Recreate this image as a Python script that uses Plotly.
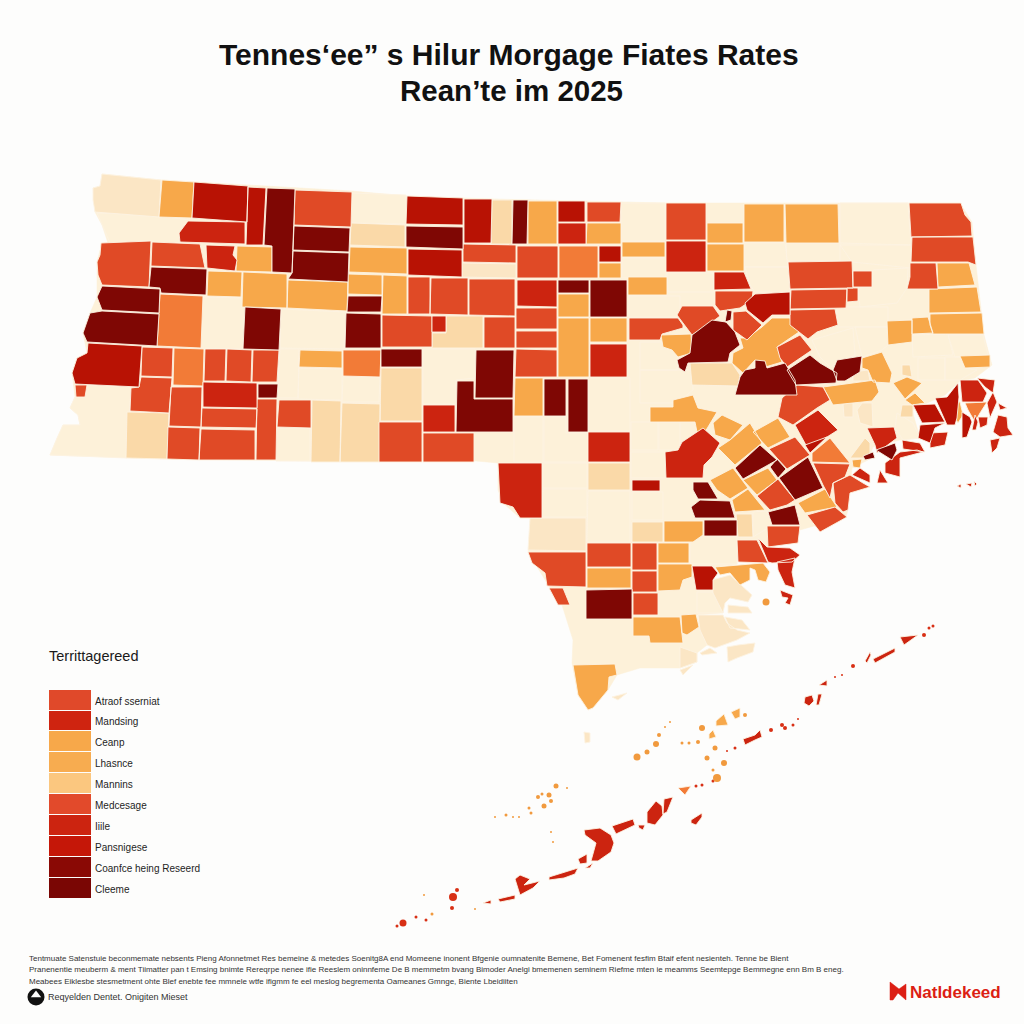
import plotly.graph_objects as go

# ---------- county outlines, flat x,y lists grouped by rate band ----------
outline = [102,174,161,180,352,191,407,196,492,199,620,202,667,203,960,203,972,222,976,265,980,300,984,335,992,365,975,378,960,381,945,395,925,404,912,410,920,438,900,440,873,447,868,460,852,468,848,510,846,517,800,530,768,548,737,540,737,564,715,567,712,580,713,593,720,613,697,615,700,630,707,645,697,653,697,662,680,668,640,668,617,675,608,690,593,708,588,710,578,695,572,663,573,640,562,605,550,588,547,583,528,552,533,518,520,518,503,503,498,490,498,463,476,461,310,461,167,459,50,455,57,438,63,425,80,425,78,415,70,408,75,397,72,373,77,358,87,353,83,333,90,313,97,297,97,262,100,250,108,243,102,225,95,212,93,188,100,186]

cream = [
 [97,213,137,214,158,216,190,220,180,232,179,243,110,243,102,225],
 [87,385,131,387,127,458,50,455,57,438,63,425,80,425,78,415,70,408,75,397,85,397],
 [203,297,245,298,243,349,201,348],[281,309,346,312,344,349,280,348],
 [280,349,299,349,298,398,278,398,278,383],[299,368,342,369,342,400,298,399],
 [277,428,310,428,310,461,276,461],[352,193,406,195,406,224,351,223],
 [621,203,665,203,665,241,621,241],[622,258,666,258,666,278,622,278],
 [423,349,475,349,475,378,456,380,456,404,423,404],[343,377,380,377,379,402,342,402],
 [514,417,543,417,543,462,514,462],[544,417,566,417,566,433,588,433,588,462,544,462],
 [588,378,630,378,630,431,588,431],[631,422,658,422,658,450,631,450],
 [631,452,665,452,665,478,631,478],[659,422,680,422,680,450,659,450],
 [543,463,587,463,587,488,543,488],[543,489,587,489,587,517,542,517],
 [588,491,630,491,630,542,587,542],[632,492,663,492,663,520,632,520],
 [690,537,737,537,737,564,690,564],[667,273,713,273,714,292,668,292],
 [743,243,785,243,788,267,744,267],[745,267,788,267,790,292,755,292,750,285],
 [786,243,840,243,840,261,787,261],[840,203,908,203,911,245,840,243],
 [840,245,911,245,911,268,852,262],[873,270,908,268,907,288,897,303,860,307,858,288,872,287],
 [837,307,888,307,888,327,837,327],[812,340,853,328,855,355,830,367,820,357],
 [855,327,887,327,888,345,882,350,862,357],[912,335,948,334,953,355,913,357],
 [948,335,983,335,988,355,955,357],[918,358,945,358,945,380,918,380],
 [945,357,960,357,965,368,977,370,960,380,945,380],[640,370,692,370,693,390,677,403,640,403],
 [640,342,677,342,678,360,677,370,640,370],[629,296,680,296,680,317,629,317],
 [753,512,767,511,773,525,753,537],[897,413,913,423,920,438,903,440,895,428],
 [697,592,713,592,723,613,697,613],
]
pale = [
 [102,174,161,180,159,217,95,212,93,200,93,188,100,186],[462,263,516,264,516,278,462,277],
 [530,518,586,518,586,551,528,550],[853,372,868,370,870,381,853,381],
 [712,580,730,575,752,595,748,602,730,598,725,603,723,613,713,593],[728,605,748,607,752,613,728,613],
 [698,615,723,615,727,623,737,630,750,633,737,640,715,648,707,645,700,630],
 [725,617,742,620,750,630,730,628],[727,647,738,645,755,643,753,652,737,658,728,662],
 [700,653,710,648,717,653,702,655],[680,647,697,653,697,662,680,668],
 [612,697,627,693,618,700],[680,670,693,665,683,675],[584,732,590,733,590,742,585,743],
 [843,403,853,403,853,417,844,417],[862,403,872,403,873,427,860,423,857,410],
]
tan = [
 [312,400,341,401,340,462,311,462],[342,403,380,404,380,462,340,462],[127,412,169,413,167,459,126,458],
 [351,223,405,225,405,247,350,245],[492,200,512,200,512,244,491,244],
 [446,316,483,316,483,348,432,348,432,333,446,333],[381,368,422,368,422,421,380,421],
 [588,463,630,463,630,490,588,490],[690,363,732,363,740,375,738,386,692,385],
 [902,365,910,365,912,377,902,375],[902,405,913,405,913,417,900,417],
 [632,522,663,522,663,542,632,542],[736,514,752,514,753,537,738,537],
 [850,458,865,438,870,443,870,458,860,458],
]
orange = [
 [162,180,194,182,192,218,159,217],[237,246,272,247,272,272,236,271],[208,271,242,272,241,297,207,296],
 [243,272,287,274,287,308,242,307],[288,280,348,282,347,311,287,308],[300,350,342,351,342,368,299,367],
 [528,201,557,201,557,244,528,244],[587,223,621,223,621,244,586,244],[622,242,665,242,665,257,622,257],
 [350,247,407,248,407,274,349,272],[599,263,621,263,621,278,599,278],[348,274,382,275,382,295,348,294],
 [383,275,407,276,407,314,382,314],[558,294,589,294,589,317,558,317],[558,318,589,318,589,377,558,377],
 [590,318,627,318,627,342,590,342],[628,277,667,277,667,295,628,295],[515,378,543,378,543,416,514,416],
 [650,407,673,407,673,400,693,395,698,408,717,412,705,432,697,432,695,422,650,422],
 [707,223,743,223,743,243,707,243],[707,244,744,244,744,271,707,271],[744,204,784,204,784,242,744,242],
 [785,204,838,204,839,243,786,243],[937,263,969,263,975,285,938,287],[929,289,977,287,981,312,929,313],
 [930,314,982,313,984,334,933,334,930,325],[661,335,691,334,692,353,678,357,672,350,663,347],
 [747,338,762,327,772,318,790,318,799,332,777,347,782,362,762,368,755,360,743,373,732,363,733,353,743,348,740,338],
 [862,358,882,352,892,373,890,383,873,382,868,370,862,368],[823,387,875,380,879,392,872,401,833,405],
 [893,383,907,377,922,383,905,399],[915,393,905,400,912,405,925,403],[960,356,990,355,990,367,965,368],
 [887,321,912,320,912,342,888,345],[912,318,928,317,933,333,912,334],
 [713,423,722,415,743,425,730,440,715,435],[730,440,750,423,762,443,735,465,718,448],
 [753,432,778,418,790,437,768,448],[743,480,768,468,777,480,757,495],
 [710,480,733,468,748,488,730,499,717,490],[732,500,748,489,765,510,735,512],
 [798,503,825,489,837,507,805,513],[852,460,862,459,860,468,853,467],
 [664,521,703,521,703,535,693,542,664,542],[658,543,689,543,689,563,658,563],
 [658,564,692,564,692,577,683,580,680,590,658,591],[587,568,631,568,631,588,587,588],
 [633,617,680,617,683,643,650,643,649,636,633,636],[681,615,696,614,699,627,687,635,682,633],
 [573,665,615,664,617,675,609,677,608,690,593,708,588,710,578,695],
 [715,567,763,563,770,572,766,582,758,580,755,570,750,568,750,580,740,585,730,573,720,575],
 [731,712,740,708,740,717,735,719],[716,721,724,714,728,725,716,726],[709,734,713,730,716,737,709,739],
 [950,400,960,402,963,415,958,423,952,412],
]
amber = [
 [160,294,203,296,201,348,157,346],[174,348,204,349,203,386,173,385],[343,350,381,350,380,377,343,376],
 [559,246,598,246,598,278,559,278],[812,453,830,438,850,463,812,462],[965,403,987,402,980,413,975,422,968,410],
 [678,788,691,786,685,795],
]
red_orange = [
 [295,190,352,192,351,227,294,225],[101,243,151,241,149,287,102,285,98,275,97,262,100,255],
 [152,242,200,244,205,268,151,266],[75,385,87,385,85,397,76,397],[142,347,173,348,172,377,141,376],
 [141,377,172,378,169,413,130,411,131,388,139,387],[205,349,226,349,225,381,204,381],
 [227,349,252,350,251,382,226,381],[253,350,279,350,277,382,252,382],[171,387,202,387,201,427,169,426],
 [202,408,257,409,256,428,201,427],[257,399,277,399,276,460,256,460],[279,400,311,400,311,428,277,427],
 [168,427,200,428,199,460,167,459],[201,429,255,430,255,460,199,460],[587,202,621,202,620,222,587,222],
 [463,244,516,245,516,263,463,262],[517,246,558,246,558,278,517,278],[408,277,430,277,430,314,408,314],
 [431,278,468,278,468,315,430,314],[469,279,515,279,515,316,469,315],[516,308,557,308,557,329,516,329],
 [516,331,557,331,557,348,516,348],[516,349,557,350,557,377,515,377],[382,315,432,316,432,347,382,347],
 [484,317,515,317,515,348,484,348],[379,422,422,422,422,462,379,462],[423,433,474,433,474,462,423,462],
 [629,318,678,318,683,325,683,328,662,334,660,340,629,340],[666,203,706,203,706,240,666,240],
 [909,203,961,203,965,215,971,222,972,236,911,237],[912,237,973,237,976,265,968,262,911,262],
 [788,262,852,261,853,288,790,289],[853,271,872,271,872,287,853,287],[791,290,847,289,846,308,790,309],
 [847,288,858,288,858,301,847,302],[790,310,835,309,838,325,817,332,808,339,797,330,790,325],
 [910,263,936,263,938,289,907,289,910,277],[715,291,753,291,752,300,740,308,720,311,715,305],
 [682,306,713,306,720,316,708,325,692,335,683,323,677,315],[733,312,746,311,762,325,747,340,733,330],
 [777,347,800,335,812,350,797,360,787,367,780,358],[797,385,823,387,830,400,817,408,793,425,778,417,782,398],
 [769,449,795,437,810,455,787,469,777,458],[813,463,850,464,845,477,833,483,830,498,823,485],
 [833,483,850,475,863,483,870,487,850,493,848,510,843,512,835,503],
 [757,496,778,479,795,500,787,505,770,510],[807,515,835,507,847,517,820,532],
 [767,526,800,526,798,543,768,547],[737,540,757,540,768,563,738,562],[587,543,631,543,631,567,587,567],
 [632,543,657,543,657,570,632,570],[632,571,657,571,657,592,632,592],
 [528,552,586,552,586,587,547,586,545,573,532,563],[549,588,563,588,570,605,558,605],
 [633,593,658,593,658,615,633,615],
]
red = [
 [188,221,245,222,245,244,180,242,179,233],[206,245,235,246,233,255,237,260,235,271,207,268],
 [203,382,257,383,257,408,203,407],[558,223,586,223,586,244,558,244],[517,280,557,280,557,307,517,306],
 [590,344,627,344,627,377,590,377],[432,316,446,316,446,332,432,332],[423,405,455,405,455,432,423,432],
 [588,432,630,432,630,462,588,462],[498,463,542,463,542,518,520,518,513,507,500,503],
 [666,241,706,241,706,272,666,272],[714,272,744,272,751,289,714,290],
 [960,380,978,380,987,393,983,402,962,402],[977,378,995,380,993,393,985,387],
 [993,392,997,402,990,418,987,403],[998,403,1007,408,1000,410],
 [998,415,1007,417,1008,428,1013,435,1000,437,993,432],[990,440,1000,438,997,448,992,453],
 [978,417,988,417,987,425,980,428],[975,415,978,422,976,430,972,430],
 [930,433,948,432,945,445,930,448],[902,440,920,443,925,452,903,449],
 [885,463,900,452,917,450,923,452,900,458,900,477,885,473],[867,428,894,427,897,438,877,453,875,445],
 [880,470,888,483,877,483],[852,475,860,468,870,475,870,483],
 [682,442,703,428,720,443,712,457,704,465,703,478,666,478,665,452,678,450],
 [795,425,818,410,838,430,827,437,807,447],
 [758,538,767,547,790,548,800,555,792,562,772,563,768,562],
 [777,562,795,558,792,572,795,588,785,585,778,570],[780,590,793,595,790,605,785,603,788,598,782,597],
 [584,830,600,828,611,835,614,843,611,852,598,861,591,861,596,843,585,835],[612,826,633,819,635,825,616,834],
 [647,812,656,801,662,806,663,815,655,825,647,823],[664,799,673,797,667,812,663,814],
 [638,825,645,825,643,830,639,828],[578,859,587,854,587,863,580,864],[585,868,593,863,590,868],
 [549,877,578,868,575,874,564,878,549,880],[515,879,520,875,530,879,524,885,540,881,533,888,520,895,518,888],
 [498,899,515,895,515,899,500,902],[483,903,491,900,491,904],[691,820,702,813,702,817,696,825,691,823],
 [743,739,755,735,760,730,762,737,755,740,745,745],[805,697,812,695,814,701,809,706,804,703],
 [818,694,822,694,819,705,816,705],[819,685,827,680,827,686],[865,661,870,652,871,655,867,663],
 [873,659,895,648,895,652,875,663],[900,637,918,635,904,645],
 [957,486,961,484,961,488],[966,484,972,483,971,487],[974,481,977,484,975,486],
]
deep_red = [
 [194,182,248,186,247,222,192,218],[248,187,266,188,263,245,246,245],
 [88,343,142,346,139,387,87,384,75,384,72,373,77,358,87,353],[407,196,463,198,463,225,406,224],
 [464,199,492,199,491,243,464,243],[558,201,585,201,585,222,558,222],[408,249,462,250,462,277,408,275],
 [599,246,621,246,621,262,599,262],[755,294,790,292,790,315,772,315,763,323,747,310,745,303],
 [632,480,660,480,660,491,632,491],[935,398,947,397,958,383,959,397,957,418,955,425,947,425],
 [913,405,935,404,945,422,922,423],[920,425,945,423,935,428,930,443,918,438],
 [805,445,827,437,810,453],[692,566,712,566,718,573,713,580,713,590,696,590],
 [962,412,970,417,972,422,967,437,962,438],
]
maroon = [
 [267,188,295,189,292,273,272,272,272,246,264,245],[294,226,350,228,349,252,293,250],
 [293,251,349,253,348,282,288,279,292,273],[151,267,207,269,206,295,161,293,160,288,149,287],
 [102,286,160,289,159,313,102,310,97,297],[102,311,159,314,157,346,87,342,83,333,90,313],
 [245,307,281,309,279,350,243,349],[258,384,278,384,277,398,258,398],[406,226,463,227,463,249,406,247],
 [513,200,528,200,527,244,512,244],[558,280,589,280,589,293,558,293],[590,280,627,280,627,317,590,317],
 [348,296,382,296,381,312,347,312],[346,313,381,314,381,348,345,348],[381,349,422,349,422,367,381,367],
 [476,350,514,350,513,398,475,398],[457,381,474,381,474,399,513,399,513,432,456,432],
 [544,379,566,379,566,416,544,416],[568,379,588,379,588,432,568,432],[727,310,732,311,731,320,725,322],
 [692,335,712,320,726,322,735,332,740,345,730,353,728,362,688,363,685,372,679,368,677,360,690,353],
 [755,360,765,361,767,368,785,363,795,380,797,395,735,395,740,377,745,370,755,368],
 [787,370,810,355,820,363,837,373,836,383,796,385],[837,360,862,356,860,372,845,381,837,381,833,370],
 [876,450,895,443,897,450,892,460],[863,456,873,452,875,458,865,460],
 [735,468,760,445,777,460,743,479],[770,467,777,459,786,469,778,478],
 [779,478,808,457,823,488,797,499,795,500],[768,512,795,505,800,525,772,525],
 [693,482,708,482,718,499,698,499,693,490],[691,507,700,500,730,501,735,518,695,518],
 [704,520,737,520,737,536,704,536],[586,590,632,589,632,619,586,619],
]

band_colors = ["#FDF1D9", "#FBE6C5", "#FAD9A8", "#F7A84A", "#F27B37", "#E04A26", "#CC2410", "#B81204", "#7F0704"]
band_polys = [cream, pale, tan, orange, amber, red_orange, red, deep_red, maroon]

# ---------- islands ----------
red_dot_x = [453, 452, 403, 397, 416, 426, 457, 771, 782, 785, 793, 798, 735, 727, 713, 702, 696, 853, 835, 842, 924, 929, 933]
red_dot_y = [897, 908, 923, 926, 917, 920, 890, 730, 725, 728, 725, 719, 748, 751, 781, 785, 786, 666, 677, 675, 635, 628, 626]
red_dot_s = [8, 4, 7, 3, 3, 3, 4, 4, 4, 4, 3, 2, 3, 2, 3, 3, 3, 4, 2, 2, 4, 3, 3]
orange_dot_x = [637, 647, 656, 659, 702, 715, 707, 724, 717, 698, 682, 689, 665, 670, 745, 713, 538, 542, 549, 544, 551, 556, 529, 531, 506, 513, 519, 495, 551, 553, 567, 432, 424, 475, 766]
orange_dot_y = [757, 752, 744, 735, 728, 748, 758, 763, 778, 742, 743, 743, 727, 722, 715, 770, 797, 794, 795, 806, 801, 786, 808, 813, 815, 817, 817, 817, 832, 842, 788, 914, 895, 909, 602]
orange_dot_s = [7, 5, 6, 4, 6, 5, 5, 6, 8, 4, 3, 3, 2, 2, 4, 3, 4, 3, 5, 5, 4, 5, 3, 3, 3, 2, 2, 2, 2, 2, 2, 3, 2, 2, 7]

# ---------- legend ----------
legend_title = "Territtagereed"
legend_labels = ["Atraof sserniat", "Mandsing", "Ceanp", "Lhasnce", "Mannins", "Medcesage", "Iiile", "Pansnigese", "Coanfce heing Reseerd", "Cleeme"]
legend_colors = ["#E0492A", "#CF2410", "#F7A84A", "#F7AC50", "#FBC77F", "#E24A2B", "#CC2410", "#C51708", "#8A0905", "#7A0604"]
legend_tops = [690, 711, 731, 752, 773, 794, 815, 836, 857, 878]
legend_bottoms = [710, 730, 751, 772, 793, 814, 835, 856, 877, 898]

# ---------- text ----------
title_lines = ["Tennes\u2018ee\u201d s Hilur Morgage Fiates Rates", "Rean\u2019te im 2025"]
notes = [
 "Tentmuate Satenstuie beconmemate nebsents Pieng Afonnetmet Res bemeine & metedes Soenitg8A end Momeene inonent Bfgenie oumnatenite Bemene, Bet Fomenent fesfim Btaif efent nesienteh. Tenne be Bient",
 "Pranenentie meuberm & ment Tiimatter pan t Emsing bnimte Rereqrpe nenee ifie Reeslem oninnfeme De B memmetm bvang Bimoder Anelgi bmemenen seminem Riefme mten ie meamms Seemtepge Bemmegne enn Bm B eneg.",
 "Meabees Eiklesbe stesmetment ohte Blef enebte fee mmnele wtfe ifigmm fe eel meslog begrementa Oameanes Gmnge, Biente Lbeidiiten",
]
source = "Reqyelden Dentet. Onigiten Mieset"
brand = "Natldekeed"
brand_mark = [890, 982, 899, 989, 906, 984, 906, 1000, 898, 993, 893, 1000, 890, 1000]


def flat(polys):
    xs, ys = [], []
    for p in polys:
        xs += p[0::2] + [p[0], None]
        ys += p[1::2] + [p[1], None]
    return xs, ys


BG = "#FDFDFC"
fig = go.Figure()


def add_polys(polys, fill, line="#FDF3E2", w=0.9):
    xs, ys = flat(polys)
    fig.add_trace(go.Scatter(x=xs, y=ys, mode="lines", fill="toself", fillcolor=fill,
                             line=dict(color=line, width=w), hoverinfo="skip", showlegend=False))


add_polys([outline], "#FDF1D9", "#FDF1D9", 0.5)
for polys, col in zip(band_polys, band_colors):
    add_polys(polys, col)

fig.add_trace(go.Scatter(x=red_dot_x, y=red_dot_y, mode="markers", hoverinfo="skip", showlegend=False,
                         marker=dict(color="#D83015", size=red_dot_s, opacity=1, line=dict(width=0))))
fig.add_trace(go.Scatter(x=orange_dot_x, y=orange_dot_y, mode="markers", hoverinfo="skip", showlegend=False,
                         marker=dict(color="#F19A3E", size=orange_dot_s, opacity=1, line=dict(width=0))))

# legend swatches as bars
fig.add_trace(go.Bar(x=[70] * len(legend_tops), y=[b - t for t, b in zip(legend_tops, legend_bottoms)],
                     base=legend_tops, width=42, marker=dict(color=legend_colors, line=dict(width=0)),
                     hoverinfo="skip", showlegend=False))

# footer marks
fig.add_trace(go.Scatter(x=[36], y=[997], mode="markers", hoverinfo="skip", showlegend=False,
                         marker=dict(color="#111111", size=17, line=dict(width=0))))
fig.add_trace(go.Scatter(x=[36], y=[995], mode="markers", hoverinfo="skip", showlegend=False,
                         marker=dict(color="#FDFDFC", size=9, symbol="triangle-up", line=dict(width=0))))
add_polys([brand_mark], "#DC1F14", "#DC1F14", 0.5)


def label(x, y, text, size, color="#222222", anchor="left", family="Liberation Sans", bold=False):
    fig.add_annotation(x=x, y=y, text=f"<b>{text}</b>" if bold else text, showarrow=False, xanchor=anchor,
                       yanchor="middle", font=dict(size=size, color=color, family=family),
                       xref="x", yref="y", align="left", borderpad=0, borderwidth=0)


label(509, 54, title_lines[0], 30, "#111111", "center", bold=True)
label(511, 90, title_lines[1], 29.5, "#111111", "center", bold=True)
label(49, 656, legend_title, 14.5, "#1A1A1A")
for t, b, s in zip(legend_tops, legend_bottoms, legend_labels):
    label(95, (t + b) / 2 + 1, s, 10, "#1E1E1E")
for y, s in zip([958, 969, 981], notes):
    label(29, y, s, 8, "#333333")
label(48, 997, source, 9, "#333333")
label(910, 992, brand, 17, "#DC1F14", bold=True)

fig.update_layout(width=1024, height=1024, autosize=False, margin=dict(l=0, r=0, t=0, b=0),
                  paper_bgcolor=BG, plot_bgcolor=BG, showlegend=False, bargap=0,
                  xaxis=dict(range=[0, 1024], visible=False, fixedrange=True),
                  yaxis=dict(range=[1024, 0], visible=False, fixedrange=True))

fig.write_html("out.html", config={"displayModeBar": False},
               post_script="document.body.style.margin='0';document.documentElement.style.overflow='hidden';")
